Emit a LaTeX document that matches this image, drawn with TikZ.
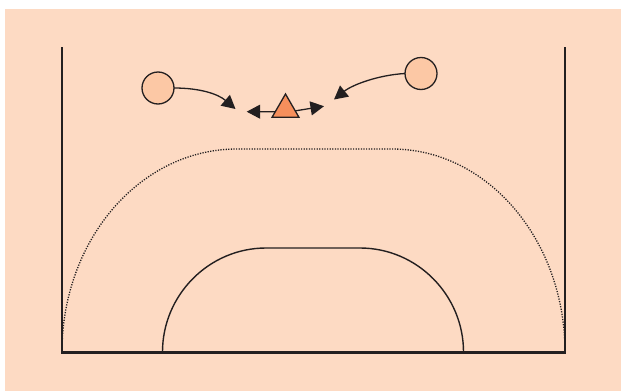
\documentclass[tikz,border=0pt]{standalone}
\usetikzlibrary{arrows.meta,shapes.geometric,calc}
\definecolor{bgpeach}{HTML}{FDDAC3}
\definecolor{circfill}{HTML}{FCC8A5}
\definecolor{trifill}{HTML}{F68F5C}
\definecolor{inkdark}{HTML}{231F20}
\tikzset{
 courtline/.style={draw=inkdark,line width=2.3pt,line cap=butt,line join=miter},
 keyline/.style={draw=inkdark,line width=1.4pt},
 dotline/.style={draw=inkdark,line width=1.3pt,dash pattern=on 1.2pt off 1.4pt},
 player/.style={circle,draw=inkdark,line width=1.3pt,fill=circfill,minimum size=32pt,inner sep=0pt,outer sep=0pt},
 defender/.style={regular polygon,regular polygon sides=3,draw=inkdark,line width=1.3pt,fill=trifill,minimum size=31pt,inner sep=0pt,outer sep=0pt},
 movearrow/.style={draw=inkdark,line width=1.3pt,-{Triangle[length=13.5pt,width=14pt,fill=inkdark]}},
}
\begin{document}
\begin{tikzpicture}[x=1pt,y=-1pt]
\useasboundingbox (0,0) rectangle (621,391);
\fill[white] (0,0) rectangle (621,391);
\fill[bgpeach] (5,9) rectangle (621,391);
% arcs
\draw[dotline] (62,352) .. controls (62,240) and (140,149) .. (237,149) -- (392,149) .. controls (487.5,149) and (565,240) .. (565,352);
\draw[keyline] (162.5,352) .. controls (162.5,295) and (209,248) .. (266,248) -- (360,248) .. controls (417,248) and (463.5,295) .. (463.5,352);
% court
\draw[courtline] (62,47) -- (62,352.5) -- (565,352.5) -- (565,47);
% players
\node[player] (pa) at (158,88) {};
\node[player] (pb) at (421,73.5) {};
\node[defender] (tri) at (285.5,109.5) {};
\coordinate (ta) at (235.5,109);
\coordinate (tb) at (334,99.5);
\coordinate (tc) at (246.7,111.7);
\coordinate (td) at (324,106.2);
\draw[movearrow] (pa.east) .. controls (200,88) and (218,94) .. (ta);
\draw[movearrow] (pb.west) .. controls (378,75) and (352,85) .. (tb);
\draw[movearrow] (tri.192) -- (tc);
\draw[movearrow] (tri.-8) -- (td);
\end{tikzpicture}
\end{document}
